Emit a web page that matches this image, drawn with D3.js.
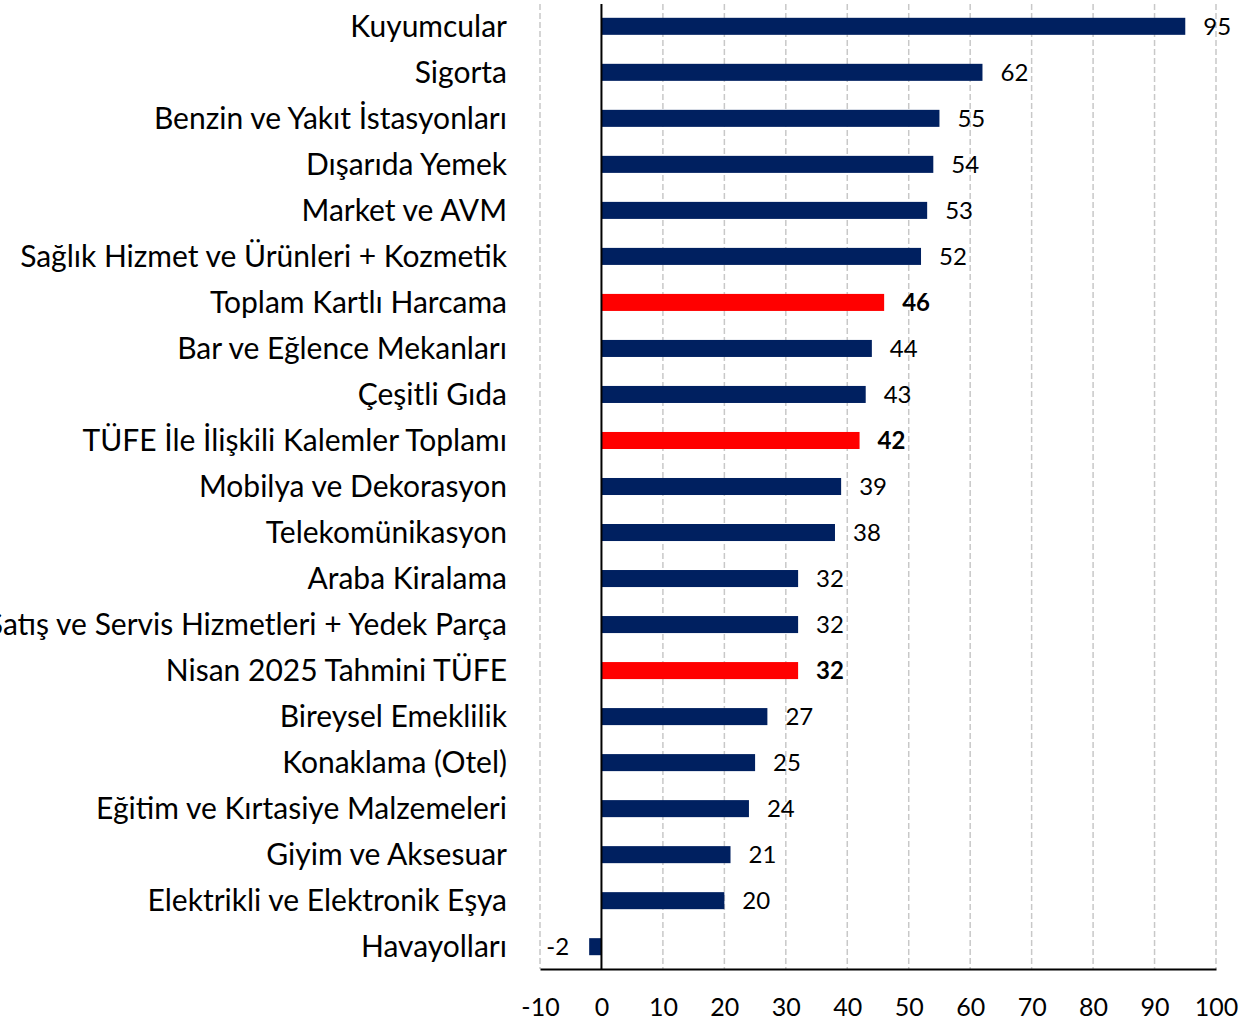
<!DOCTYPE html>
<meta charset="utf-8">
<script src="https://d3js.org/d3.v7.min.js"></script>
<style>
  body { margin: 0; background: #fff; }
  text { font-family: Lato, "Open Sans", sans-serif; }
</style>
<div id="my_dataviz"></div>
<script>

  // data
  var categories = [
    "Kuyumcular", "Sigorta", "Benzin ve Yakıt İstasyonları", "Dışarıda Yemek",
    "Market ve AVM", "Sağlık Hizmet ve Ürünleri + Kozmetik", "Toplam Kartlı Harcama",
    "Bar ve Eğlence Mekanları", "Çeşitli Gıda", "TÜFE İle İlişkili Kalemler Toplamı",
    "Mobilya ve Dekorasyon", "Telekomünikasyon", "Araba Kiralama",
    "Oto Satış ve Servis Hizmetleri + Yedek Parça", "Nisan 2025 Tahmini TÜFE",
    "Bireysel Emeklilik", "Konaklama (Otel)", "Eğitim ve Kırtasiye Malzemeleri",
    "Giyim ve Aksesuar", "Elektrikli ve Elektronik Eşya", "Havayolları"
  ];
  var values = [95, 62, 55, 54, 53, 52, 46, 44, 43, 42, 39, 38, 32, 32, 32, 27, 25, 24, 21, 20, -2];
  var highlighted = ["Toplam Kartlı Harcama", "TÜFE İle İlişkili Kalemler Toplamı", "Nisan 2025 Tahmini TÜFE"];
  var xTicks = [-10, 0, 10, 20, 30, 40, 50, 60, 70, 80, 90, 100];

  var data = categories.map(function(c, i) { return {name: c, value: values[i]}; });

  var margin = {top: 4, right: 24, bottom: 52, left: 540},
      width = 1240 - margin.left - margin.right,
      height = 1021 - margin.top - margin.bottom;

  var svg = d3.select("#my_dataviz")
    .append("svg")
      .attr("width", 1240)
      .attr("height", 1021)
    .append("g")
      .attr("transform", "translate(" + margin.left + "," + margin.top + ")");

  var x = d3.scaleLinear()
      .domain([-10, 100])
      .range([0, 676]);

  var y = d3.scaleBand()
      .domain(categories)
      .range([0, 965])
      .paddingInner(0.63)
      .paddingOuter(0.3);

  // dashed gridlines
  svg.selectAll(".grid")
    .data(xTicks.filter(function(d) { return d != 0; }))
    .enter()
    .append("line")
      .attr("x1", function(d) { return x(d); })
      .attr("x2", function(d) { return x(d); })
      .attr("y1", 0)
      .attr("y2", 965)
      .style("stroke", "#c8c8c8")
      .style("stroke-width", 1.5)
      .style("stroke-dasharray", "6,3");

  // bottom axis
  var xAxis = svg.append("g")
      .attr("transform", "translate(0,965)")
      .call(d3.axisBottom(x).tickValues(xTicks).tickSize(0).tickPadding(29)
        .tickFormat(function(d) { return String(d); }));
  xAxis.select(".domain").style("stroke", "#000").style("stroke-width", 2);
  xAxis.selectAll("text")
      .style("font-size", "25px")
      .style("fill", "#000");

  // bars
  svg.selectAll(".bar")
    .data(data)
    .enter()
    .append("rect")
      .attr("x", function(d) { return x(Math.min(0, d.value)); })
      .attr("y", function(d) { return y(d.name); })
      .attr("width", function(d) { return Math.abs(x(d.value) - x(0)); })
      .attr("height", y.bandwidth())
      .style("fill", function(d) { return highlighted.indexOf(d.name) >= 0 ? "#ff0000" : "#002060"; });

  // zero line
  svg.append("line")
      .attr("x1", x(0))
      .attr("x2", x(0))
      .attr("y1", 0)
      .attr("y2", 965)
      .style("stroke", "#000")
      .style("stroke-width", 2);

  // value labels
  svg.selectAll(".val")
    .data(data)
    .enter()
    .append("text")
      .attr("x", function(d) { return d.value < 0 ? x(d.value) - 20 : x(d.value) + 18; })
      .attr("y", function(d) { return y(d.name) + y.bandwidth() / 2; })
      .attr("dy", "0.36em")
      .attr("text-anchor", function(d) { return d.value < 0 ? "end" : "start"; })
      .style("font-size", "24px")
      .style("font-weight", function(d) { return highlighted.indexOf(d.name) >= 0 ? "bold" : "normal"; })
      .text(function(d) { return d.value; });

  // category labels
  svg.selectAll(".cat")
    .data(data)
    .enter()
    .append("text")
      .attr("x", -33)
      .attr("y", function(d) { return y(d.name) + y.bandwidth() / 2; })
      .attr("dy", "0.36em")
      .attr("text-anchor", "end")
      .style("font-size", "30px")
      .text(function(d) { return d.name; });

</script>
